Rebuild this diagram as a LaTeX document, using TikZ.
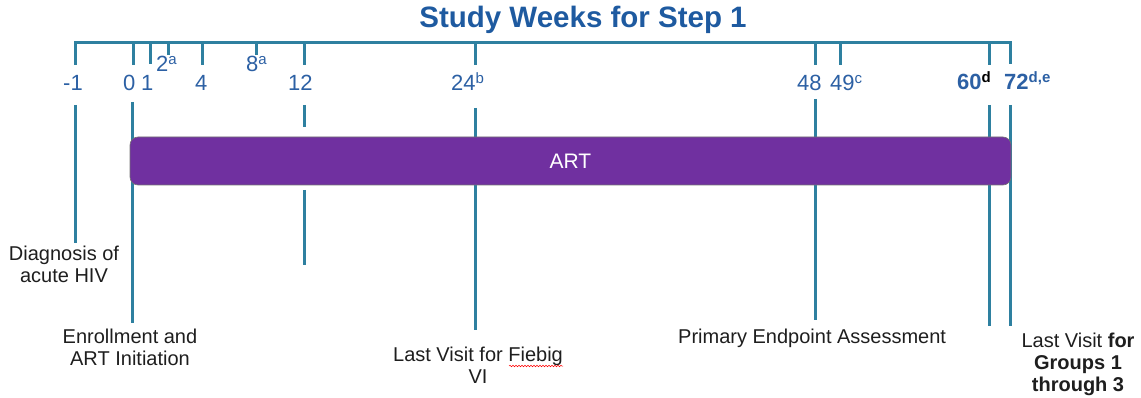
\documentclass[tikz,border=0pt]{standalone}
\usepackage{fontspec}
\setmainfont{Liberation Sans}
\usetikzlibrary{decorations.pathmorphing}
\definecolor{axisc}{RGB}{46,128,160}
\definecolor{numc}{RGB}{44,96,164}
\definecolor{titlec}{RGB}{30,90,160}
\definecolor{artc}{RGB}{112,48,160}
\definecolor{txtc}{RGB}{30,30,30}
\newcommand{\supx}[1]{\raisebox{7pt}{\fontsize{15}{15}\selectfont #1}}
\begin{document}
\begin{tikzpicture}[x=1pt,y=-1pt,
  tl/.style={draw=axisc, line width=3pt},
  num/.style={text=numc, font=\fontsize{22}{22}\selectfont, anchor=base west, inner sep=0pt},
  bnum/.style={num, font=\bfseries\fontsize{22}{22}\selectfont},
  lbl/.style={text=txtc, font=\fontsize{20}{22}\selectfont, align=center, anchor=north, inner sep=0pt},
  artbar/.style={draw=black!55, line width=0.6pt, fill=artc, rounded corners=8pt,
    minimum width=881pt, minimum height=48pt, text=white, font=\fontsize{21}{21}\selectfont, inner sep=0pt}]
\useasboundingbox (0,0) rectangle (1141,398);

% title
\node[anchor=base, text=titlec, font=\bfseries\fontsize{29.5}{29.5}\selectfont, inner sep=0pt] (title) at (583,28) {Study Weeks for Step 1};

% axis with end ticks
\coordinate (ax0) at (75,43);
\coordinate (ax1) at (1010,43);
\draw[tl, line join=miter] (75,65) -- (ax0) -- (ax1) -- (1010,64);
% ticks
\foreach \x/\e in {133/65,150/64,168/55,202/65,256/55,304/65,475/65,815/65,840/65,989/65}
  \draw[tl] (\x,43) -- (\x,\e);

% week labels
\node[num] (wm1) at (63,91) {-1};
\node[num] (w0) at (123,91) {0};
\node[num] (w1) at (141,91) {1};
\node[num] (w2) at (156,72) {2\supx{a}};
\node[num] (w4) at (195,91) {4};
\node[num] (w8) at (246,72) {8\supx{a}};
\node[num] (w12) at (288,91) {12};
\node[num] (w24) at (451,91) {24\supx{b}};
\node[num] (w48) at (797,91) {48};
\node[num] (w49) at (830,91) {49\supx{c}};
\node[bnum] (w60) at (957,90) {60\supx{\textcolor{black}{\bfseries d}}};
\node[bnum] (w72) at (1004,90) {72\supx{\bfseries d,e}};

% vertical lines
\draw[tl] (75,105) -- (75,243);
\draw[tl] (132,102) -- (132,323);
\draw[tl] (304,105) -- (304,127);
\draw[tl] (304,190) -- (304,265);
\draw[tl] (475,108) -- (475,330);
\draw[tl] (815,99) -- (815,320);
\draw[tl] (989,105) -- (989,326);
\draw[tl] (1010,105) -- (1010,326);

% ART bar
\node[artbar] (art) at (570.5,161) {ART};

% bottom labels
\node[lbl] (diag) at (64,246) {Diagnosis of\\acute HIV};
\node[lbl] (enr) at (130,329) {Enrollment and\\ART Initiation};
\node[lbl] (fieb) at (478,347) {Last Visit for Fiebig\\VI};
\node[lbl, anchor=north west] (prim) at (678,329) {Primary Endpoint Assessment};
\node[lbl] (lastv) at (1078,333) {Last Visit \textbf{for}\\\textbf{Groups 1}\\\textbf{through 3}};

% spell-check underline
\draw[red, line width=0.5pt, decorate, decoration={snake, amplitude=0.8pt, segment length=3pt}] (509,366) -- (563,366);
\end{tikzpicture}
\end{document}
